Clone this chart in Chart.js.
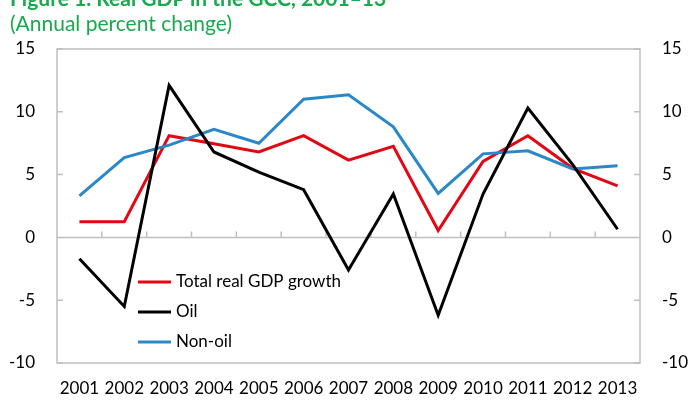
<!DOCTYPE html>
<html>
<head>
<meta charset="utf-8">
<script src="https://cdn.jsdelivr.net/npm/chart.js@4.4.0/dist/chart.umd.min.js"></script>
<style>
html, body { margin: 0; padding: 0; background: #fff; }
#wrap { position: relative; width: 692px; height: 402px; overflow: hidden; }
#wrap canvas { position: absolute; left: 0; top: 0; }
#title { position: absolute; left: 10px; top: -15px; font: bold 21px Lato, sans-serif; color: #19a94f; white-space: nowrap; }
#sub { position: absolute; left: 10px; top: 10px; font: 21px Lato, sans-serif; color: #19a94f; white-space: nowrap; }
</style>
</head>
<body>
<div id="wrap">
  <canvas id="gdpChart" width="692" height="402"></canvas>
  <div id="title">Figure 1. Real GDP in the GCC, 2001–13</div>
  <div id="sub">(Annual percent change)</div>
</div>
<script>
// data
const years = ['2001', '2002', '2003', '2004', '2005', '2006', '2007', '2008', '2009', '2010', '2011', '2012', '2013'];
const totalGdp = [1.25, 1.25, 8.1, 7.45, 6.8, 8.1, 6.15, 7.25, 0.55, 6.05, 8.1, 5.5, 4.1];
const oil = [-1.7, -5.5, 12.1, 6.8, 5.2, 3.8, -2.6, 3.45, -6.2, 3.45, 10.3, 5.8, 0.65];
const nonOil = [3.3, 6.35, 7.35, 8.6, 7.5, 11.0, 11.35, 8.8, 3.5, 6.65, 6.9, 5.45, 5.7];
const yMin = -10, yMax = 15, yStep = 5;

const legendItems = [
    { label: 'Total real GDP growth', color: '#e30613' },
    { label: 'Oil', color: '#000000' },
    { label: 'Non-oil', color: '#2b88c8' }
];

const fontFam = 'Lato, sans-serif';
const axisGrey = '#bfbfbf';

// plot box, zero line and the small inward tick marks
const framePlugin = {
    id: 'frame',
    beforeDatasetsDraw(chart) {
        const {ctx, chartArea: a, scales} = chart;
        const x = scales.x, y = scales.y;
        const y0 = y.getPixelForValue(0);
        ctx.save();
        ctx.strokeStyle = axisGrey;
        ctx.lineWidth = 1.5;
        ctx.strokeRect(a.left, a.top, a.right - a.left, a.bottom - a.top);

        ctx.beginPath();
        ctx.moveTo(a.left, y0);
        ctx.lineTo(a.right, y0);
        y.ticks.forEach(t => {
            const py = y.getPixelForValue(t.value);
            ctx.moveTo(a.left, py);
            ctx.lineTo(a.left + 6, py);
            ctx.moveTo(a.right - 6, py);
            ctx.lineTo(a.right, py);
        });
        for (let i = 1; i < years.length; i++) {
            const px = x.getPixelForValue(i - 0.5);
            ctx.moveTo(px, y0);
            ctx.lineTo(px, y0 - 6);
        }
        ctx.stroke();
        ctx.restore();
    }
};

// legend sits inside the plot, lower left
const legendPlugin = {
    id: 'innerLegend',
    afterDraw(chart) {
        const ctx = chart.ctx;
        ctx.save();
        ctx.font = '17px ' + fontFam;
        ctx.textBaseline = 'middle';
        legendItems.forEach((item, i) => {
            const ly = 282 + i * 30;
            ctx.strokeStyle = item.color;
            ctx.lineWidth = 3;
            ctx.beginPath();
            ctx.moveTo(138, ly);
            ctx.lineTo(171, ly);
            ctx.stroke();
            ctx.fillStyle = '#000';
            ctx.fillText(item.label, 176, ly);
        });
        ctx.restore();
    }
};

const yAxis = (pos, w) => ({
    position: pos,
    min: yMin,
    max: yMax,
    grid: { display: false, drawTicks: false },
    border: { display: false },
    ticks: {
        stepSize: yStep,
        color: '#000',
        padding: 22,
        font: { size: 17, family: fontFam }
    },
    afterFit(scale) { scale.width = w; }
});

const ctx = document.getElementById('gdpChart').getContext('2d');
const gdpChart = new Chart(ctx, {
    type: 'line',
    data: {
        labels: years,
        datasets: [
            { label: 'Total real GDP growth', data: totalGdp, borderColor: legendItems[0].color, order: 2 },
            { label: 'Oil', data: oil, borderColor: legendItems[1].color, order: 0 },
            { label: 'Non-oil', data: nonOil, borderColor: legendItems[2].color, order: 1 }
        ]
    },
    options: {
        responsive: false,
        animation: false,
        layout: { padding: { top: 49, left: 0, right: 0, bottom: 0 } },
        elements: {
            line: { borderWidth: 3, tension: 0, borderJoinStyle: 'miter' },
            point: { radius: 0 }
        },
        plugins: {
            legend: { display: false },
            title: { display: false },
            tooltip: { enabled: false }
        },
        scales: {
            x: {
                offset: true,
                grid: { display: false, drawTicks: false },
                border: { display: false },
                ticks: {
                    color: '#000',
                    padding: 15,
                    maxRotation: 0,
                    autoSkip: false,
                    font: { size: 17, family: fontFam }
                },
                afterFit(scale) { scale.height = 39; }
            },
            y: yAxis('left', 57),
            y2: yAxis('right', 52)
        }
    },
    plugins: [framePlugin, legendPlugin]
});
</script>
</body>
</html>
